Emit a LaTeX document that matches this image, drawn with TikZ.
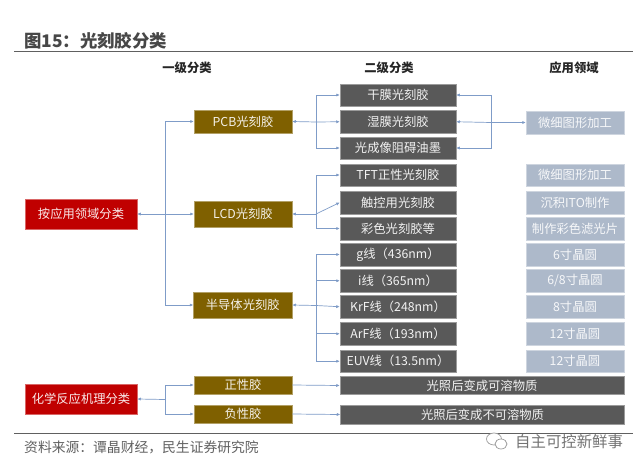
\documentclass[tikz,border=0pt]{standalone}
\usepackage{fontspec}
\setmainfont{Noto Sans CJK SC}
\usetikzlibrary{arrows.meta}
\newcommand{\fwcolon}{\symbol{"FF1A}}
\newcommand{\fwcomma}{\symbol{"FF0C}}
\newcommand{\fwl}{\symbol{"FF08}}
\newcommand{\fwr}{\symbol{"FF09}}
\definecolor{brownbox}{HTML}{7F6000}
\definecolor{redbox}{HTML}{C00000}
\definecolor{darkbox}{HTML}{595959}
\definecolor{lightbox}{HTML}{ADB9CA}
\definecolor{conn}{HTML}{7F9CC8}
\definecolor{rulecol}{HTML}{606060}
\tikzset{
  box/.style={inner sep=0pt,font=\fontsize{12.3}{12.3}\selectfont,draw=#1!60!white,line width=0.5pt,fill=#1,text=white!92!#1},
  redn/.style={box=redbox},
  brownn/.style={box=brownbox},
  darkn/.style={box=darkbox},
  lightn/.style={box=lightbox,text=white!90!lightbox},
  headn/.style={inner sep=0pt,font=\fontsize{12.3}{12.3}\selectfont\bfseries,text=black!85},
  wire/.style={draw=conn,line width=0.7pt},
  arr/.style={wire,-{Latex[length=3.5pt,width=3.2pt,fill=conn!80!black]}},
  rulel/.style={draw=rulecol,line width=1.4pt},
}
\newcommand{\bx}[7]{\node[#6,minimum width={(#4-#2)*1pt},minimum height={(#5-#3)*1pt}] (#1) at ({(#2+#4)/2},{(#3+#5)/2}) {#7};}
\begin{document}
\begin{tikzpicture}[x=1pt,y=-1pt]
\useasboundingbox[fill=white] (0,0) rectangle (640,463);
% title and rules
\node[anchor=west,inner sep=0pt,font=\fontsize{17.4}{17.4}\selectfont\bfseries,text=black!72] (title) at (24,41) {图15\fwcolon 光刻胶分类};
\coordinate (r1a) at (14,51.5); \coordinate (r1b) at (633,51.5);
\draw[rulel] (r1a) -- (r1b);
\coordinate (r2a) at (14,433.5); \coordinate (r2b) at (633,433.5);
\draw[rulel] (r2a) -- (r2b);
% headers
\node[headn] (h1) at (187,68) {一级分类};
\node[headn] (h2) at (389,68) {二级分类};
\node[headn] (h3) at (574,68) {应用领域};
% red
\bx{app}{25}{199}{137}{229}{redn}{按应用领域分类}
\bx{chem}{25}{384}{137}{414}{redn}{化学反应机理分类}
% brown
\bx{pcb}{194}{110}{292}{133}{brownn}{PCB光刻胶}
\bx{lcd}{194}{201}{292}{227}{brownn}{LCD光刻胶}
\bx{semi}{193.5}{292}{292}{318}{brownn}{半导体光刻胶}
\bx{pos}{194}{376}{292}{394}{brownn}{正性胶}
\bx{neg}{194}{405}{292}{423}{brownn}{负性胶}
% dark
\bx{a1}{340}{84}{456}{106}{darkn}{干膜光刻胶}
\bx{a2}{340}{110.5}{456}{133}{darkn}{湿膜光刻胶}
\bx{a3}{340}{137}{456}{159}{darkn}{光成像阻碍油墨}
\bx{b1}{340}{164}{456}{186}{darkn}{TFT正性光刻胶}
\bx{b2}{340}{191}{456}{214}{darkn}{触控用光刻胶}
\bx{b3}{340}{217}{456}{240}{darkn}{彩色光刻胶等}
\bx{c1}{340}{243}{456}{266}{darkn}{g线\fwl 436nm\fwr}
\bx{c2}{340}{269.5}{456}{292}{darkn}{i线\fwl 365nm\fwr}
\bx{c3}{340}{295.5}{456}{318}{darkn}{KrF线\fwl 248nm\fwr}
\bx{c4}{340}{322.5}{456}{345}{darkn}{ArF线\fwl 193nm\fwr}
\bx{c5}{340}{350}{456}{372.5}{darkn}{EUV线\fwl 13.5nm\fwr}
\bx{d1}{340}{376.5}{624}{394.5}{darkn}{光照后变成可溶物质}
\bx{d2}{340.5}{405}{624.5}{424}{darkn}{光照后变成不可溶物质}
% light
\bx{m1}{526}{111}{624}{134}{lightn}{微细图形加工}
\bx{m2}{526}{164}{624}{186}{lightn}{微细图形加工}
\bx{m3}{526}{191}{624}{214}{lightn}{沉积ITO制作}
\bx{m4}{526}{217}{624}{240}{lightn}{制作彩色滤光片}
\bx{m5}{526}{243}{624}{266}{lightn}{6寸晶圆}
\bx{m6}{526}{269.5}{624}{292}{lightn}{6/8寸晶圆}
\bx{m7}{526}{295.5}{624}{318}{lightn}{8寸晶圆}
\bx{m8}{526}{322.5}{624}{345}{lightn}{12寸晶圆}
\bx{m9}{526}{350}{624}{372.5}{lightn}{12寸晶圆}
% source and watermark
\node[anchor=west,inner sep=0pt,font=\fontsize{13.8}{14}\selectfont,text=black!62] (src) at (24,447) {资料来源\fwcolon 谭晶财经\fwcomma 民生证券研究院};
\node[anchor=west,inner sep=0pt,font=\fontsize{15.4}{16}\selectfont,text=black!55] (wm) at (515,442) {自主可控新鲜事};
\draw[black!40,line width=0.7pt,fill=white] (494,439) ellipse (7.5 and 6);
\draw[black!40,line width=0.7pt,fill=white] (501,444) ellipse (6 and 5);
% left trunks
\coordinate (tl) at (165,214);
\draw[wire] (165,121) -- (165,305);
\draw[arr] (tl) -- (app.east);
\draw[arr] (tl) |- (pcb.west);
\draw[arr] (tl) -- (lcd.west);
\draw[arr] (tl) |- (semi.west);
\coordinate (tc) at (165,399.5);
\draw[arr] (tc) -- (chem.east);
\draw[arr] (tc) |- (pos.west);
\draw[arr] (tc) |- (neg.west);
% PCB group
\coordinate (t1) at (316,122);
\draw[arr] (t1) -- (pcb.east);
\draw[arr] (t1) |- (a1.west);
\draw[arr] (t1) -- (a2.west);
\draw[arr] (t1) |- (a3.west);
\coordinate (t1r) at (491,122.5);
\draw[arr] (t1r) |- (a1.east);
\draw[arr] (t1r) -- (a2.east);
\draw[arr] (t1r) |- (a3.east);
\draw[arr] (t1r) -- (m1.west);
% LCD group
\coordinate (t2) at (316,214);
\draw[arr] (t2) -- (lcd.east);
\draw[arr] (t2) |- (b1.west);
\draw[arr] (t2) -- (b2.west);
\draw[arr] (t2) |- (b3.west);
% semiconductor group
\coordinate (t3) at (316,305.5);
\draw[arr] (t3) -- (semi.east);
\draw[arr] (t3) |- (c1.west);
\draw[arr] (t3) |- (c2.west);
\draw[arr] (t3) -- (c3.west);
\draw[arr] (t3) |- (c4.west);
\draw[arr] (t3) |- (c5.west);
% bars
\draw[arr] (pos.east) -- (d1.west);
\draw[arr] (neg.east) -- (d2.west);
\end{tikzpicture}
\end{document}
